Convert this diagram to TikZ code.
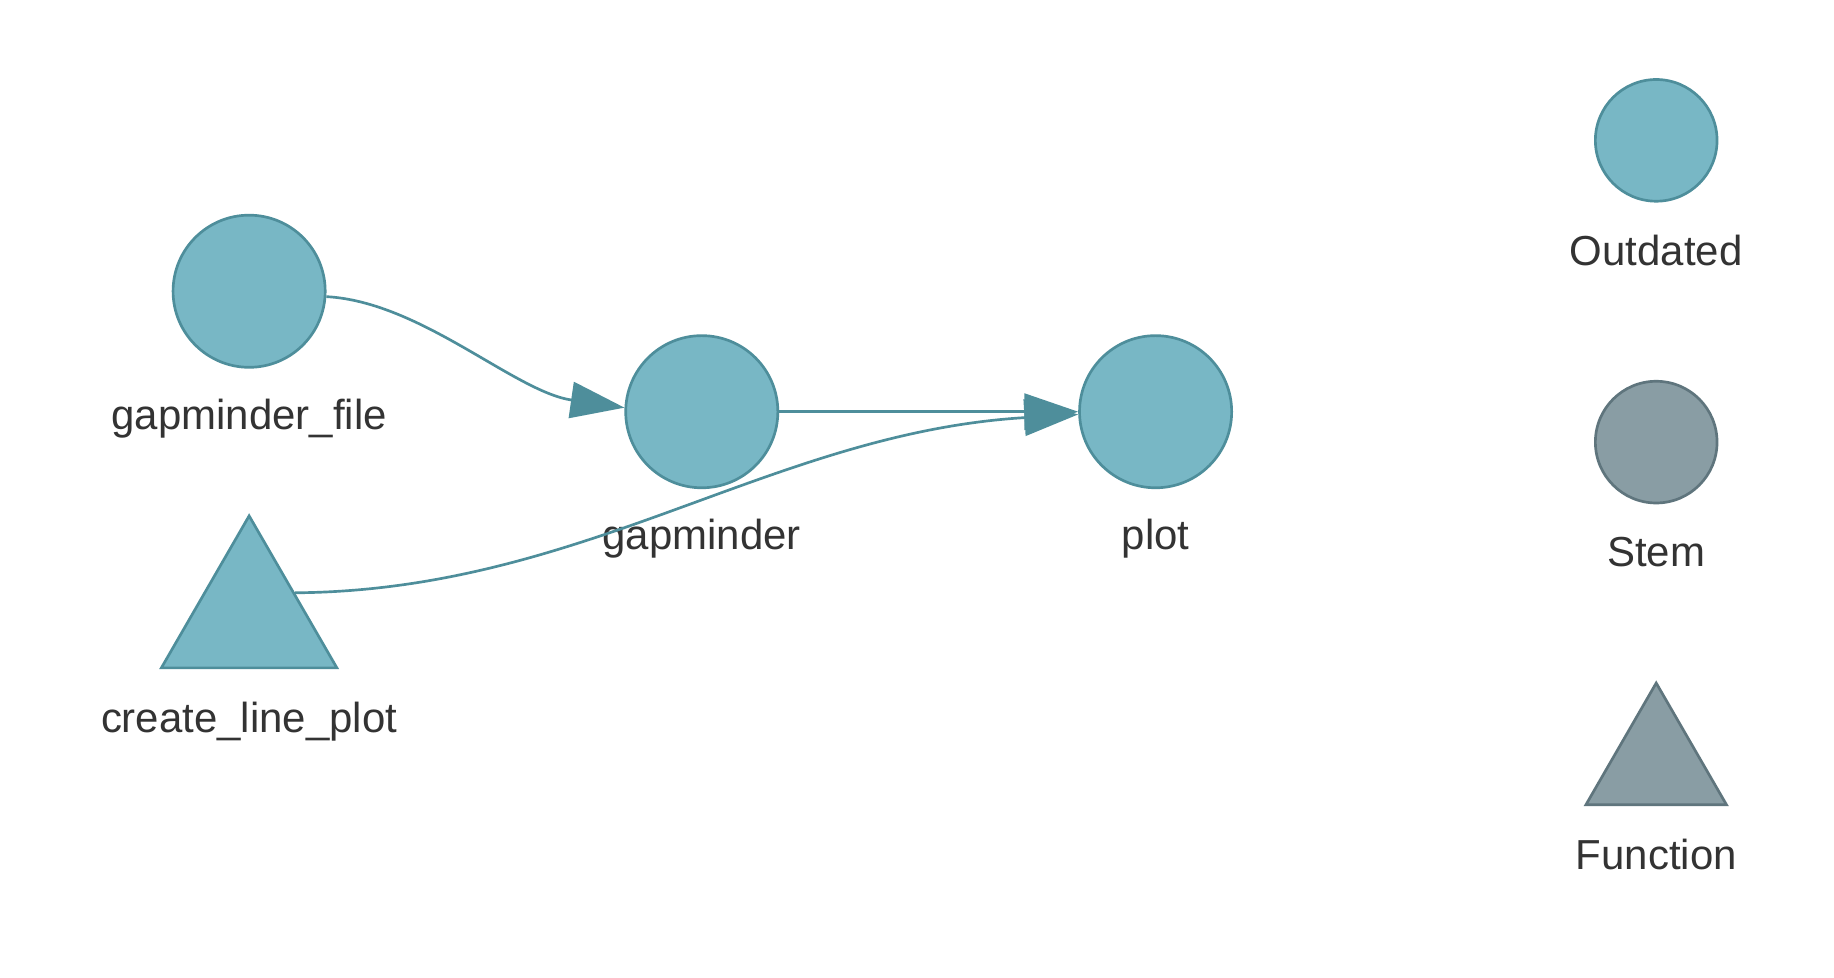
\documentclass[tikz,border=0pt]{standalone}
\usepackage{fontspec}
\setmainfont{Liberation Sans}
\usetikzlibrary{arrows.meta,shapes.geometric}
\definecolor{tealfill}{HTML}{78B7C5}
\definecolor{tealline}{HTML}{4E8E9B}
\definecolor{grayfill}{HTML}{899DA4}
\definecolor{grayline}{HTML}{5F757D}
\definecolor{txt}{HTML}{333333}
\tikzset{
  outd/.style={circle,draw=tealline,fill=tealfill,line width=0.65pt,inner sep=0pt,minimum size=1.3cm},
  outdsmall/.style={circle,draw=tealline,fill=tealfill,line width=0.65pt,inner sep=0pt,minimum size=1.04cm},
  stemsmall/.style={circle,draw=grayline,fill=grayfill,line width=0.65pt,inner sep=0pt,minimum size=1.04cm},
  funbig/.style={regular polygon,regular polygon sides=3,draw=tealline,fill=tealfill,line width=0.65pt,inner sep=0pt,minimum size=1.732cm},
  funsmall/.style={regular polygon,regular polygon sides=3,draw=grayline,fill=grayfill,line width=0.65pt,inner sep=0pt,minimum size=1.386cm},
  lbl/.style={anchor=base,text=txt,font=\fontsize{10.2pt}{12pt}\selectfont,inner sep=0pt},
  edge/.style={draw=tealline,line width=0.65pt,-{Triangle[length=0.46cm,width=0.31cm]}}
}
\begin{document}
\begin{tikzpicture}[x=0.01cm,y=-0.01cm]
\useasboundingbox[fill=white] (0,0) rectangle (1568,836);
% nodes
\node[outd] (gf) at (213,249) {};
\node[outd] (gm) at (600,352) {};
\node[outd] (pl) at (988,352) {};
\node[funbig] (clp) at (213,527.7) {};
% labels
\node[lbl] (gfl) at (213,367) {gapminder\_file};
\node[lbl] (gml) at (600,470) {gapminder};
\node[lbl] (pll) at (988,470) {plot};
\node[lbl] (clpl) at (213,626) {create\_line\_plot};
% edges
\draw[edge] (gf.-4.4) .. controls (360,258) and (440,335) .. (gm.177);
\draw[edge] (gm.east) -- (pl.west);
\draw[edge] (clp.28) .. controls (500,505) and (660,370) .. (pl.182);
% legend
\node[outdsmall] (lo) at (1416,120) {};
\node[lbl] (lol) at (1416,227) {Outdated};
\node[stemsmall] (ls) at (1416,378) {};
\node[lbl] (lsl) at (1416,484) {Stem};
\node[funsmall] (lf) at (1416,653.3) {};
\node[lbl] (lfl) at (1416,743) {Function};
\end{tikzpicture}
\end{document}
